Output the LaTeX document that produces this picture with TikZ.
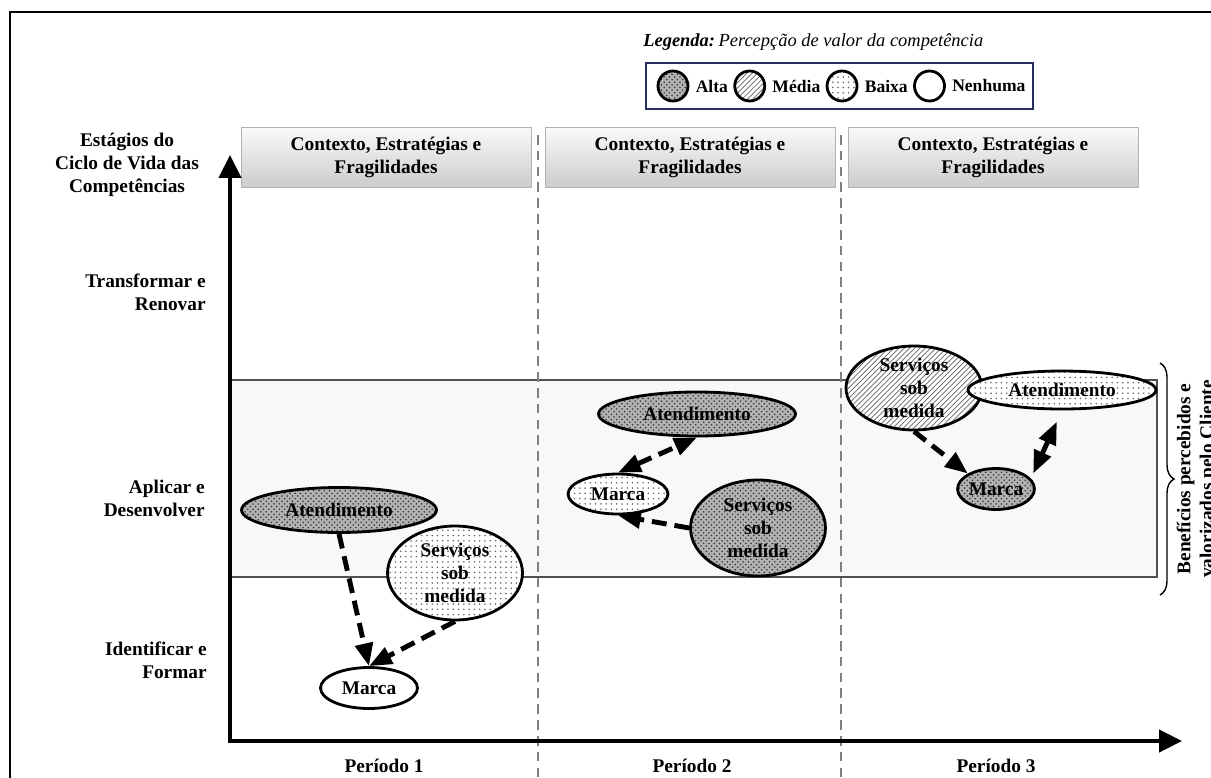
\documentclass[tikz,border=0pt]{standalone}
\usepackage{fontspec}
\setmainfont{Liberation Serif}
\usepackage{tikz}
\usetikzlibrary{arrows.meta,positioning,shapes.geometric,patterns,decorations.pathreplacing}

\definecolor{bandfill}{RGB}{247,249,248}
\definecolor{bandline}{RGB}{80,80,80}
\definecolor{legblue}{RGB}{40,45,95}

\begin{document}
\begin{tikzpicture}[x=0.02cm,y=-0.02cm,
    lbl/.style={font=\fontsize{11}{13}\selectfont\bfseries,align=center,inner sep=0pt},
    stage/.style={lbl,align=right,anchor=east},
    header/.style={lbl,draw=gray!60,top color=gray!4,bottom color=gray!40,minimum width=5.8cm,minimum height=1.2cm},
    comp/.style={ellipse,draw,line width=1.6pt,lbl},
    alta/.style={comp,preaction={fill=gray!60},pattern=crosshatch dots,pattern color=black!80},
    media/.style={comp,preaction={fill=white},pattern=north east lines,pattern color=black!60},
    baixa/.style={comp,preaction={fill=white},pattern=dots,pattern color=black!60},
    nenhuma/.style={comp,fill=white},
    legc/.style={circle,minimum size=0.6cm},
    legtxt/.style={font=\fontsize{10}{12}\selectfont\bfseries,inner sep=0pt},
    link/.style={line width=2.8pt,dash pattern=on 8.5pt off 4.5pt,-{Triangle[length=13pt,width=10pt]}},
    both/.style={link,{Triangle[length=13pt,width=10pt]}-{Triangle[length=13pt,width=10pt]}},
    axis/.style={line width=2.3pt,{Triangle[length=13pt,width=12.5pt]}-{Triangle[length=13pt,width=12.5pt]}},
    sep/.style={gray,line width=1.4pt,dash pattern=on 5.5pt off 3.5pt}]
    \clip (0,0) rectangle (1211,778);

    % frame
    \draw[line width=1.7pt] (10,800) -- (10,12) -- (1230,12);

    % legend
    \node[anchor=west,inner sep=0pt,font=\fontsize{10.5}{12}\selectfont] (legtitle) at (643,42)
      {\textbf{\textit{Legenda:}}\kern2pt\textit{Percepção de valor da competência}};
    \node[draw=legblue,line width=0.8pt,minimum width=7.74cm,minimum height=0.92cm] (legbox) at (839.5,86) {};
    \node[alta,legc] (leg-alta) at (673,86) {};
    \node[legtxt,right=0.12cm of leg-alta] (legt-alta) {Alta};
    \node[media,legc,right=0.1cm of legt-alta] (leg-media) {};
    \node[legtxt,right=0.12cm of leg-media] (legt-media) {Média};
    \node[baixa,legc,right=0.1cm of legt-media] (leg-baixa) {};
    \node[legtxt,right=0.12cm of leg-baixa] (legt-baixa) {Baixa};
    \node[nenhuma,legc,right=0.1cm of legt-baixa] (leg-nenhuma) {};
    \node[legtxt,right=0.12cm of leg-nenhuma] (legt-nenhuma) {Nenhuma};

    % band of client value
    \fill[bandfill] (230,380) rectangle (1157,577);
    \draw[bandline,line width=1pt] (230,380) -- (1157,380) -- (1157,577) -- (230,577);
    \draw[decorate,decoration={brace,amplitude=0.28cm},line width=0.8pt] (1160,363) -- (1160,595);
    \node[lbl,rotate=90] (benef) at (1197,479) {Benefícios percebidos e\\valorizados pelo Cliente};

    % periods
    \draw[sep] (538,135) -- (538,790);
    \draw[sep] (841,135) -- (841,790);
    \foreach \i/\cx in {1/386,2/690,3/993} {
      \node[header] (ctx\i) at (\cx,157) {Contexto, Estratégias e\\Fragilidades};
    }
    \foreach \i/\cx in {1/384,2/692,3/996} {
      \node[lbl] (per\i) at (\cx,766) {Período \i};
    }

    % axes
    \coordinate (O) at (230,741);
    \coordinate (ytop) at (230,155);
    \coordinate (xend) at (1182,741);
    \draw[axis] (ytop) -- (O) -- (xend);

    % stages
    \node[lbl] (stages) at (127,165) {Estágios do\\Ciclo de Vida das\\Competências};
    \node[stage] (transf) at (206,292) {Transformar e\\Renovar};
    \node[stage] (aplic) at (205,498) {Aplicar e\\Desenvolver};
    \node[stage] (ident) at (207,660) {Identificar e\\Formar};

    % periodo 1
    \node[alta,minimum width=3.9cm,minimum height=0.9cm] (aten1) at (339,510) {Atendimento};
    \node[baixa,minimum width=2.7cm,minimum height=1.88cm] (serv1) at (455,573) {Serviços\\sob\\medida};
    \node[nenhuma,minimum width=1.94cm,minimum height=0.82cm] (marca1) at (369,688) {Marca};
    % periodo 2
    \node[alta,minimum width=3.94cm,minimum height=0.88cm] (aten2) at (697,414) {Atendimento};
    \node[baixa,minimum width=2cm,minimum height=0.8cm] (marca2) at (618,494) {Marca};
    \node[alta,minimum width=2.7cm,minimum height=1.92cm] (serv2) at (758,528) {Serviços\\sob\\medida};
    % periodo 3
    \node[media,minimum width=2.72cm,minimum height=1.68cm] (serv3) at (914,388) {Serviços\\sob\\medida};
    \node[baixa,minimum width=3.76cm,minimum height=0.76cm] (aten3) at (1062,390) {Atendimento};
    \node[alta,minimum width=1.5cm,minimum height=0.82cm] (marca3) at (996,489) {Marca};

    \draw[link] (aten1.south) -- (marca1.north);
    \draw[link] (serv1.south) -- (marca1.north);
    \draw[both] (marca2.north) -- (aten2.south);
    \draw[link] (serv2.west) -- (marca2.south);
    \draw[link] (serv3.south) -- (marca3.north west);
    \draw[both,shorten >=7pt] ([xshift=0.18cm]marca3.north east) -- (aten3.south);
  \end{tikzpicture}
\end{document}
